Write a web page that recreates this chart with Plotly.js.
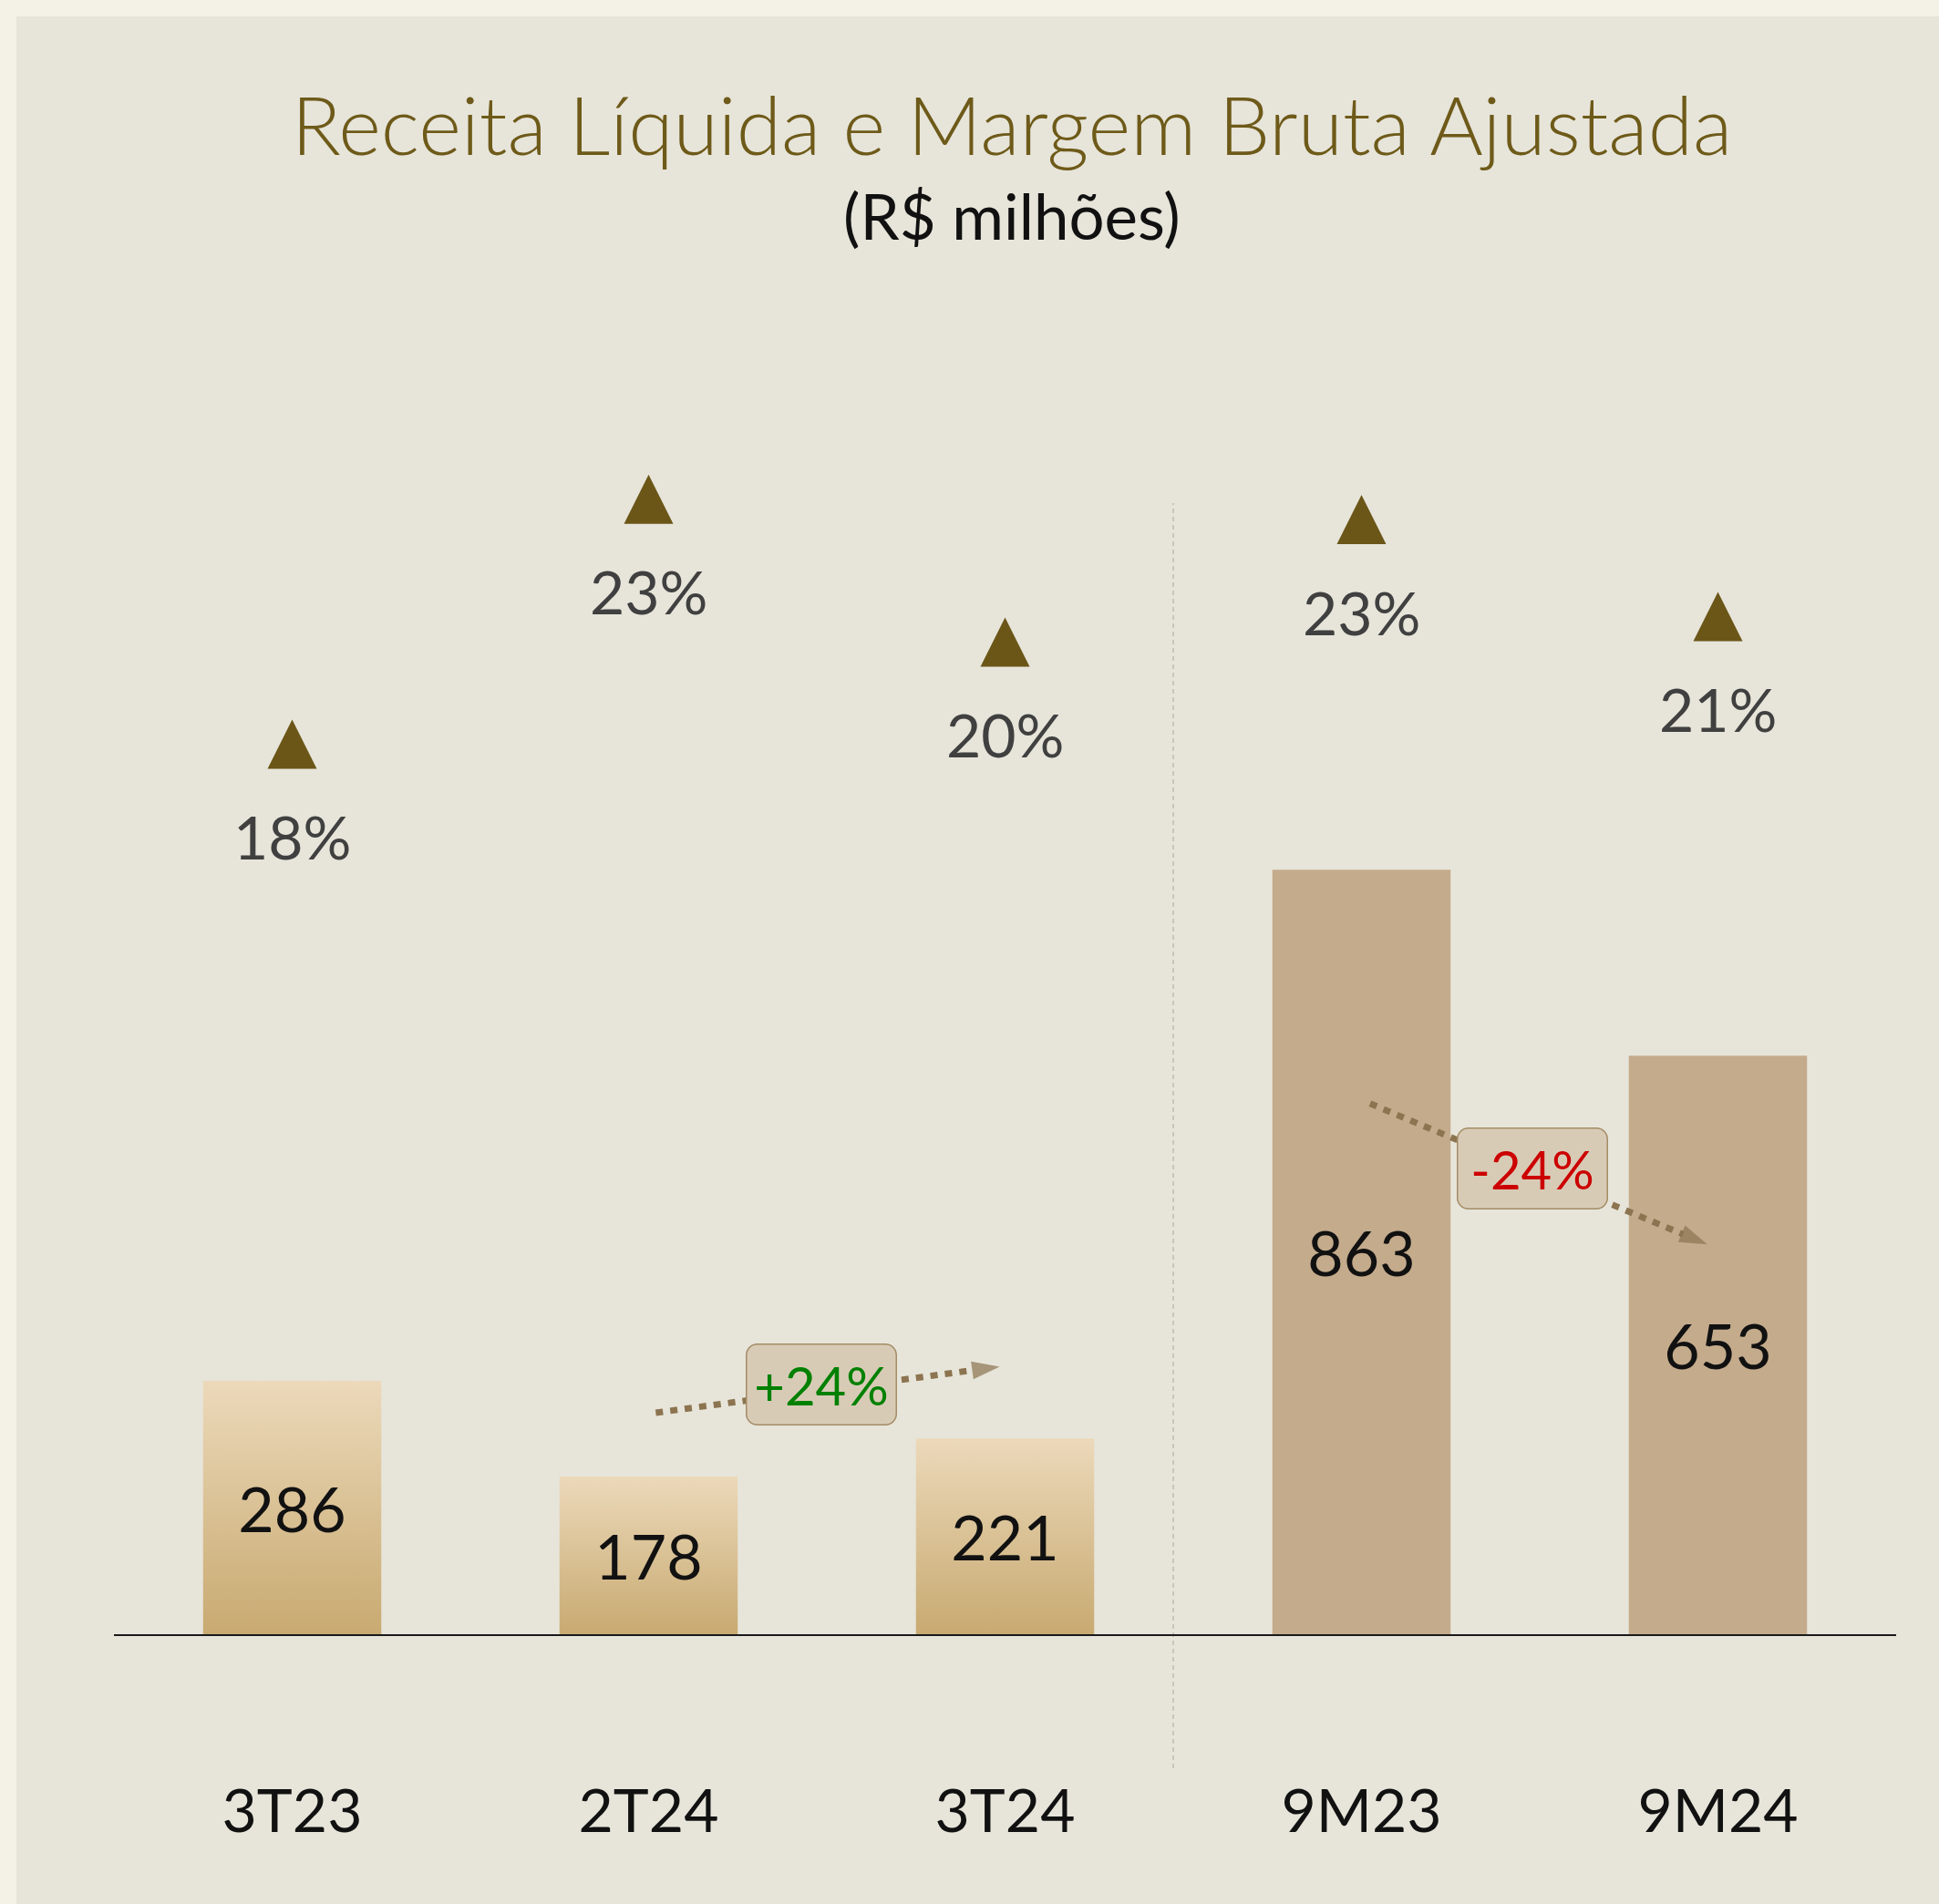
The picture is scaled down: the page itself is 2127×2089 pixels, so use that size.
<!DOCTYPE html>
<html><head><meta charset="utf-8">
<script src="https://cdn.plot.ly/plotly-3.0.1.min.js"></script>
<style>
html,body{margin:0;padding:0;background:#F4F2E7;width:2127px;height:2089px;overflow:hidden;}
#chart{position:absolute;left:18px;top:18px;width:2109px;height:2071px;}
</style></head><body><div id="chart"></div>
<script>
// ---------- DATA ----------
const categories = ['3T23', '2T24', '3T24', '9M23', '9M24'];
const revenue = [286, 178, 221, 863, 653];          // Receita Líquida (R$ milhões)
const grossMargin = [18.3, 23.1, 20.3, 22.7, 20.8]; // Margem Bruta Ajustada (%)
const comparisons = [[1, 2], [3, 4]];                // pairs compared with arrows

// ---------- STYLE / LAYOUT CONSTANTS ----------
const W = 2109, H = 2071;
const M = {l: 107, r: 47, t: 282, b: 296};
const FONT = 'Lato, "Open Sans", sans-serif';
const barColors = ['#DAC294', '#DAC294', '#DAC294', '#C4AB8C', '#C4AB8C'];
const arrowOffsets = [
  {dx0: 0.02, dy0: 72, dx1: -0.015, dy1: 81},
  {dx0: 0.024, dy0: -264, dx1: -0.03, dy1: -213}
];
const boxShift = {dx: -0.018, dy: 6};

const xIdx = categories.map((c, i) => i);

const data = [];
data.push({
  type: 'bar', x: xIdx, y: revenue, width: 0.5,
  marker: {color: barColors, line: {width: 0}},
  text: revenue.map(v => String(v)), textposition: 'inside', insidetextanchor: 'middle',
  textangle: 0, constraintext: 'none',
  textfont: {family: FONT, size: 68, color: '#111111'},
  hoverinfo: 'skip', showlegend: false
});
data.push({
  type: 'scatter', mode: 'markers', x: xIdx, y: grossMargin, yaxis: 'y2',
  marker: {symbol: 'arrow-up', size: 54, color: '#6B5618', line: {width: 0}},
  hoverinfo: 'skip', showlegend: false, cliponaxis: false
});

const annotations = [];
// margin labels under triangles
grossMargin.forEach((v, i) => {
  annotations.push({
    x: xIdx[i], y: v, xref: 'x', yref: 'y2', text: Math.round(v) + '%',
    showarrow: false, yshift: -128, yanchor: 'middle', xanchor: 'center',
    font: {family: FONT, size: 66, color: '#404040'}
  });
});

// comparison arrows + labels
comparisons.forEach((pair, k) => {
  const [a, b] = pair;
  const o = arrowOffsets[k];
  const x0 = xIdx[a] + o.dx0, y0 = revenue[a] + o.dy0;
  const x1 = xIdx[b] + o.dx1, y1 = revenue[b] + o.dy1;
  data.push({
    type: 'scatter', mode: 'lines+markers', x: [x0, x1], y: [y0, y1],
    line: {color: '#8C7450', width: 7, dash: '8px,8px'},
    marker: {symbol: ['circle', 'arrow'], size: [0, 32], color: '#8C7450', angleref: 'previous', line: {width: 0}},
    hoverinfo: 'skip', showlegend: false, cliponaxis: false
  });
  const pct = Math.round((revenue[b] / revenue[a] - 1) * 100);
  annotations.push({
    x: (x0 + x1) / 2 + boxShift.dx, y: (y0 + y1) / 2 + boxShift.dy, xref: 'x', yref: 'y',
    text: (pct > 0 ? '+' : '') + pct + '%', showarrow: false,
    font: {family: FONT, size: 58, color: pct > 0 ? '#008000' : '#CC0000'},
    bgcolor: '#D8CBB6', bordercolor: '#A48C66', borderwidth: 1.5, borderpad: 0,
    width: 163, height: 87, align: 'center', valign: 'middle'
  });
});

// subtitle
annotations.push({
  xref: 'paper', yref: 'paper', x: (1092 - M.l) / (W - M.l - M.r), y: (H - M.b - 218) / (H - M.t - M.b),
  text: '(R$ milhões)', showarrow: false, xanchor: 'center', yanchor: 'middle',
  font: {family: FONT, size: 69, color: '#111111'}
});

const plotH = H - M.t - M.b;
const layout = {
  width: W, height: H, margin: M,
  paper_bgcolor: '#E7E5DA', plot_bgcolor: 'rgba(0,0,0,0)',
  title: {
    text: 'Receita Líquida e Margem Bruta Ajustada',
    font: {family: FONT, size: 89.5, color: '#6E5A19', weight: 300},
    xref: 'container', yref: 'container', x: 1092 / W, xanchor: 'center',
    y: 1 - 121 / H, yanchor: 'middle'
  },
  xaxis: {
    type: 'linear', range: [-0.5, 4.5], tickvals: xIdx, ticktext: categories,
    showgrid: false, zeroline: false, showline: true, linecolor: '#1A1A1A', linewidth: 2,
    ticks: '', ticklabelstandoff: 136,
    tickfont: {family: FONT, size: 66, color: '#111111'}, fixedrange: true
  },
  yaxis: {range: [0, plotH / 0.972], visible: false, showgrid: false, zeroline: false, fixedrange: true},
  yaxis2: {overlaying: 'y', range: [0.38, 0.38 + plotH / 56], visible: false, showgrid: false, zeroline: false, fixedrange: true},
  barmode: 'overlay',
  showlegend: false,
  annotations: annotations,
  shapes: [{
    type: 'line', xref: 'x', yref: 'paper', x0: 2.472, x1: 2.472,
    y0: (H - M.b - 1922) / plotH, y1: (H - M.b - 534) / plotH,
    line: {color: '#BDBCB6', width: 1.5, dash: '5px,4px'}, layer: 'below'
  }]
};

const gd = document.getElementById('chart');
Plotly.newPlot(gd, data, layout, {staticPlot: true, displayModeBar: false}).then(() => {
  const svg = gd.querySelector('svg.main-svg');
  const ns = 'http://www.w3.org/2000/svg';
  const defs = document.createElementNS(ns, 'defs');
  const lg = document.createElementNS(ns, 'linearGradient');
  lg.setAttribute('id', 'qgrad');
  lg.setAttribute('x1', '0'); lg.setAttribute('y1', '0');
  lg.setAttribute('x2', '0'); lg.setAttribute('y2', '1');
  [['0', '#ECD9BA'], ['1', '#C8AA71']].forEach(([off, col]) => {
    const s = document.createElementNS(ns, 'stop');
    s.setAttribute('offset', off); s.setAttribute('stop-color', col);
    lg.appendChild(s);
  });
  defs.appendChild(lg);
  svg.insertBefore(defs, svg.firstChild);
  const paths = gd.querySelectorAll('.barlayer .trace')[0].querySelectorAll('.point path');
  paths.forEach((p, i) => { if (i < 3) p.style.fill = 'url(#qgrad)'; });
  // rounded corners for comparison label boxes
  gd.querySelectorAll('.annotation .bg').forEach(r => {
    if (r.getAttribute('width') && +r.getAttribute('width') > 150 && +r.getAttribute('width') < 180) {
      r.setAttribute('rx', 12); r.setAttribute('ry', 12);
    }
  });
});
</script></body></html>
